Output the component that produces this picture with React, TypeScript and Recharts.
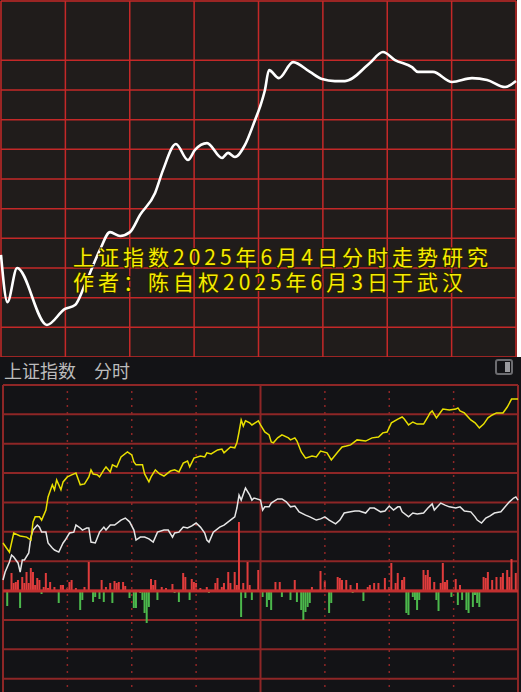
import {
  LineChart,
  Line,
  XAxis,
  YAxis,
  CartesianGrid,
  ComposedChart,
  Bar,
  Cell,
  ReferenceLine,
} from "recharts";

// 研究图：平滑走势 (分钟, 格数)
const studyMinutes = [
  0, 3, 7.5, 21.4, 29.8, 34.5, 39.1, 46.1, 50.8, 55.5, 60.1, 64.8, 71.8, 75.5,
  81.5, 87.1, 90.4, 96, 103, 105.8, 109, 113.7, 118.4, 120.7, 123, 124.9, 129.5,
  136.1, 144, 149.6, 155.6, 160.3, 171.9, 178, 183.6, 191.5, 194.3, 201.3, 210.2,
  219.5, 226.5, 234.9, 240,
];
const studyLevels = [
  3.44, 1.85, 3.0, 1.08, 1.62, 1.75, 2.43, 3.61, 4.21, 4.08, 4.21, 4.79, 5.53,
  6.3, 7.18, 6.64, 6.98, 7.21, 6.71, 6.88, 6.74, 7.15, 7.99, 8.43, 9.0, 9.67, 9.4,
  9.94, 9.61, 9.37, 9.3, 9.3, 9.91, 10.28, 10.01, 9.77, 9.61, 9.61, 9.27, 9.4,
  9.34, 9.1, 9.3,
];

// 分时：不含加权 (黄线)
const yellowMinutes = [
  0, 3, 5, 8, 11, 13, 14, 15, 17, 18, 20, 21, 23, 24, 25, 27, 28, 30, 32, 34, 36,
  38, 40, 41, 42, 44, 45, 47, 48, 50, 51, 53, 55, 58, 60, 61, 62, 65, 66, 68, 69,
  71, 73, 75, 78, 80, 82, 84, 86, 87, 89, 92, 94, 95, 97, 100, 102, 103, 106, 108,
  109, 110, 111, 112, 113, 115, 116, 119, 120, 122, 124, 125, 126, 128, 130, 133,
  134, 136, 137, 139, 141, 144, 146, 148, 151, 153, 156, 158, 160, 162, 165, 169,
  172, 175, 177, 179, 181, 184, 186, 187, 189, 191, 193, 196, 198, 199, 200, 202,
  204, 205, 208, 211, 212, 213, 215, 218, 220, 222, 224, 226, 228, 230, 233, 235,
  237, 240,
];
const yellowLevels = [
  5.62, 5.31, 5.96, 5.86, 5.82, 5.72, 6.34, 6.51, 6.51, 6.4, 6.74, 7.19, 7.6, 7.43,
  7.77, 7.43, 7.7, 7.87, 7.94, 8.0, 7.6, 7.63, 7.87, 8.11, 7.97, 7.94, 7.87, 8.11,
  8.21, 8.04, 8.28, 8.21, 8.55, 8.72, 8.62, 8.38, 8.28, 8.28, 7.97, 7.7, 7.87, 8.11,
  7.97, 7.9, 8.07, 8.11, 8.04, 8.34, 8.41, 8.21, 8.51, 8.58, 8.55, 8.69, 8.65, 8.79,
  8.82, 8.69, 8.89, 8.86, 9.03, 9.4, 9.81, 9.6, 9.78, 9.71, 9.64, 9.78, 9.64, 9.4,
  9.3, 9.06, 9.03, 9.2, 9.3, 9.2, 9.13, 9.2, 9.09, 8.72, 8.51, 8.58, 8.55, 8.75,
  8.69, 8.45, 8.72, 8.89, 8.92, 8.96, 9.13, 9.09, 9.2, 9.23, 9.37, 9.4, 9.71, 9.84,
  9.91, 9.84, 9.64, 9.74, 9.67, 9.67, 9.91, 10.05, 10.12, 9.88, 10.08, 10.18, 10.15,
  10.18, 10.22, 10.12, 10.05, 9.81, 9.71, 9.54, 9.67, 9.88, 9.98, 10.05, 10.05,
  10.25, 10.52, 10.52,
];

// 分时：上证指数 (白线)
const whiteMinutes = [
  0, 1, 3, 4, 5, 7, 8, 9, 10, 12, 13, 14, 16, 17, 18, 20, 21, 23, 24, 26, 28, 29,
  31, 33, 34, 36, 37, 39, 40, 41, 43, 45, 47, 48, 50, 52, 55, 57, 59, 61, 62, 64,
  66, 68, 70, 72, 75, 77, 79, 80, 82, 84, 86, 88, 90, 92, 94, 95, 96, 98, 101, 103,
  106, 108, 109, 110, 111, 113, 115, 116, 117, 120, 121, 122, 124, 125, 128, 130,
  132, 134, 136, 138, 141, 143, 146, 148, 150, 152, 155, 157, 159, 162, 164, 166,
  169, 171, 173, 176, 178, 180, 182, 184, 185, 186, 189, 191, 193, 196, 198, 200,
  201, 204, 206, 208, 211, 213, 215, 218, 220, 221, 223, 225, 227, 229, 232, 234,
  236, 238, 239, 240,
];
const whiteLevels = [
  4.36, 4.63, 4.97, 5.21, 5.14, 4.94, 4.63, 5.04, 5.04, 5.28, 5.82, 6.06, 6.23, 6.16,
  5.99, 5.99, 5.62, 5.45, 5.38, 5.31, 5.62, 5.72, 5.96, 5.99, 6.23, 6.13, 6.06, 6.13,
  6.13, 5.65, 5.62, 5.99, 6.16, 6.06, 6.23, 6.23, 6.4, 6.47, 6.34, 6.06, 5.72, 5.82,
  5.82, 5.76, 5.65, 5.99, 6.06, 6.06, 5.82, 5.96, 5.99, 6.16, 6.13, 6.2, 6.3, 6.16,
  5.96, 5.72, 5.65, 5.99, 6.16, 6.23, 6.4, 6.51, 6.81, 7.25, 7.08, 7.49, 7.25, 7.08,
  7.15, 7.08, 6.74, 6.85, 6.85, 6.98, 7.12, 7.12, 7.02, 6.85, 6.88, 6.68, 6.57, 6.51,
  6.4, 6.44, 6.51, 6.4, 6.27, 6.4, 6.64, 6.68, 6.71, 6.71, 6.64, 6.81, 6.81, 6.68,
  6.71, 6.88, 6.74, 6.85, 6.85, 6.68, 6.51, 6.64, 6.61, 6.64, 6.81, 6.95, 6.74, 6.98,
  6.91, 6.85, 6.81, 6.85, 6.71, 6.68, 6.51, 6.4, 6.3, 6.47, 6.54, 6.64, 6.68, 6.85,
  7.02, 7.15, 7.19, 7.08,
];

// 买卖力道柱 (红正绿负)
const powerMinutes = [
  2, 4, 5, 6, 7, 8, 9, 10, 11, 12, 13, 14, 15, 16, 17, 18, 19, 20, 21, 22, 24, 26,
  27, 28, 30, 31, 32, 34, 36, 37, 38, 40, 42, 43, 45, 46, 47, 48, 50, 51, 52, 53, 54,
  56, 57, 59, 61, 62, 64, 65, 66, 67, 68, 69, 70, 71, 72, 74, 76, 79, 80, 82, 84, 85,
  87, 88, 89, 90, 92, 95, 96, 99, 100, 102, 103, 105, 106, 108, 109, 110, 111, 112,
  113, 114, 115, 116, 119, 121, 123, 124, 125, 127, 129, 130, 134, 136, 137, 139,
  140, 141, 142, 143, 144, 148, 150, 152, 153, 156, 157, 158, 160, 162, 163, 165,
  168, 170, 171, 173, 175, 178, 180, 181, 183, 184, 186, 187, 188, 189, 191, 192,
  193, 194, 196, 197, 198, 199, 201, 202, 203, 204, 205, 206, 207, 209, 211, 212,
  213, 214, 216, 217, 219, 220, 221, 222, 224, 225, 226, 228, 230, 232, 233, 235,
  236, 237, 239, 240,
];
const powerValues = [
  -15, 18, 8, 9, 11, -17, 14, 8, 19, 8, 23, 19, 6, 13, 11, -3, 4, 18, 3, 9, 4, -12,
  6, 6, 3, 9, 11, 3, -19, -9, 4, 29, -11, -6, -8, 11, -11, 4, 8, -12, 10, 8, 9, 9, 5,
  -7, -17, -17, -2, -9, -22, -32, -16, 12, 6, 11, -9, 4, 3, 7, -2, -11, 18, 14, -9,
  12, 9, 8, 3, 4, -2, 8, 13, 4, 8, 19, 8, 19, 6, 69, -26, 8, -7, 29, 6, -9, 21, -6,
  -16, -9, -19, 9, 9, -6, -9, 11, -11, -19, -29, -21, -16, -12, 4, 20, 10, -22, -12,
  14, 13, 11, 11, 6, -2, 8, -10, 4, 6, 8, 8, 13, 4, 28, 8, 18, 11, 14, -22, -24, -6,
  -9, -19, -9, 21, 16, 21, 14, 9, -9, -20, 8, 28, 9, 11, -6, 12, -14, 6, -9, -19,
  -22, -16, -4, -12, -16, 14, 13, 19, 11, 14, 14, 18, 21, 14, 32, 18, 19,
];

const captionLines = [
  "上证指数2025年6月4日分时走势研究",
  "作者：陈自权2025年6月3日于武汉",
];

const halfHours = [0, 30, 60, 90, 120, 150, 180, 210, 240];
const studyRows = [0, 1, 2, 3, 4, 5, 6, 7, 8, 9, 10, 11, 12];
const priceRows = [0, 1, 2, 3, 4, 5, 6, 7, 8, 9, 10, 11];

const studyData = studyMinutes.map((t, i) => ({ t, v: studyLevels[i] }));
const yellowData = yellowMinutes.map((t, i) => ({ t, v: yellowLevels[i] }));
const whiteData = whiteMinutes.map((t, i) => ({ t, v: whiteLevels[i] }));
const powerData = powerMinutes.map((t, i) => ({ t, p: powerValues[i] }));

const CJK = '"Noto Sans CJK SC", "Noto Sans", sans-serif';

function StudyPanel() {
  return (
    <div
      style={{
        position: "absolute",
        left: 0,
        top: 0,
        width: 517,
        height: 358,
        background: "#201c1b",
      }}
    >
      <LineChart
        width={517}
        height={358}
        data={studyData}
        margin={{ top: 1, right: 1, bottom: 1, left: 1 }}
      >
        <XAxis
          dataKey="t"
          type="number"
          domain={[0, 240]}
          ticks={halfHours}
          hide
        />
        <YAxis type="number" domain={[0, 12]} ticks={studyRows} hide />
        <CartesianGrid stroke="#c42828" strokeWidth={1.5} />
        <Line
          type="monotone"
          dataKey="v"
          stroke="#ffffff"
          strokeWidth={2.6}
          dot={false}
          isAnimationActive={false}
        />
      </LineChart>
      {/* two caption lines in one text block */}
      <div
        style={{
          position: "absolute",
          left: 73,
          top: 244,
          fontFamily: CJK,
          fontSize: 21,
          lineHeight: "25px",
          letterSpacing: 4,
          color: "#f6ec00",
          whiteSpace: "pre",
          textShadow:
            "1px 1px 0 #2a2200, -1px -1px 0 #2a2200, 1px -1px 0 #2a2200, -1px 1px 0 #2a2200",
        }}
      >
        {captionLines.join("\n")}
      </div>
    </div>
  );
}

function IntradayPanel() {
  const headStyle = {
    position: "absolute" as const,
    top: 2,
    fontFamily: CJK,
    fontSize: 18,
    lineHeight: "22px",
    color: "#bcbcbc",
    whiteSpace: "nowrap" as const,
  };
  return (
    <div
      style={{
        position: "absolute",
        left: 0,
        top: 357,
        width: 521,
        height: 335,
        background: "#131316",
        overflow: "hidden",
      }}
    >
      <div style={{ ...headStyle, left: 4 }}>上证指数</div>
      <div style={{ ...headStyle, left: 94 }}>分时</div>
      <div
        style={{
          position: "absolute",
          left: 495,
          top: 2,
          width: 14,
          height: 12,
          border: "2px solid #6c6c70",
          borderRadius: 3,
        }}
      >
        <div
          style={{
            position: "absolute",
            right: 1,
            top: 1,
            width: 5,
            height: 10,
            background: "#9a9a9e",
          }}
        />
      </div>
      <ComposedChart
        width={521}
        height={351}
        data={powerData}
        margin={{ top: 28, right: 3, bottom: 0, left: 3 }}
      >
        <XAxis dataKey="t" type="number" domain={[0, 240]} ticks={halfHours} hide />
        <YAxis
          yAxisId="price"
          type="number"
          domain={[0, 11]}
          ticks={priceRows}
          hide
        />
        <YAxis yAxisId="power" type="number" domain={[-117, 206]} hide />
        <CartesianGrid
          yAxisId="price"
          vertical={false}
          stroke="#8e2626"
          strokeWidth={2}
        />
        {halfHours.map((m) => (
          <ReferenceLine
            key={m}
            x={m}
            yAxisId="price"
            stroke="#8e2626"
            strokeWidth={m % 120 === 0 ? 2 : 1.5}
            strokeDasharray={m % 120 === 0 ? undefined : "2 5"}
          />
        ))}
        <ReferenceLine y={0} yAxisId="power" stroke="#c23030" strokeWidth={3} />
        <Bar yAxisId="power" dataKey="p" barSize={2} isAnimationActive={false}>
          {powerData.map((d, i) => (
            <Cell key={i} fill={d.p >= 0 ? "#e03c3c" : "#4cb84c"} />
          ))}
        </Bar>
        <Line
          yAxisId="price"
          data={whiteData}
          dataKey="v"
          type="linear"
          stroke="#e6e6e6"
          strokeWidth={1.5}
          dot={false}
          isAnimationActive={false}
        />
        <Line
          yAxisId="price"
          data={yellowData}
          dataKey="v"
          type="linear"
          stroke="#e8df00"
          strokeWidth={1.5}
          dot={false}
          isAnimationActive={false}
        />
      </ComposedChart>
    </div>
  );
}

export default function App() {
  return (
    <div
      style={{
        position: "absolute",
        left: 0,
        top: 0,
        width: 521,
        height: 692,
        background: "#ffffff",
        overflow: "hidden",
      }}
    >
      <StudyPanel />
      <IntradayPanel />
    </div>
  );
}
